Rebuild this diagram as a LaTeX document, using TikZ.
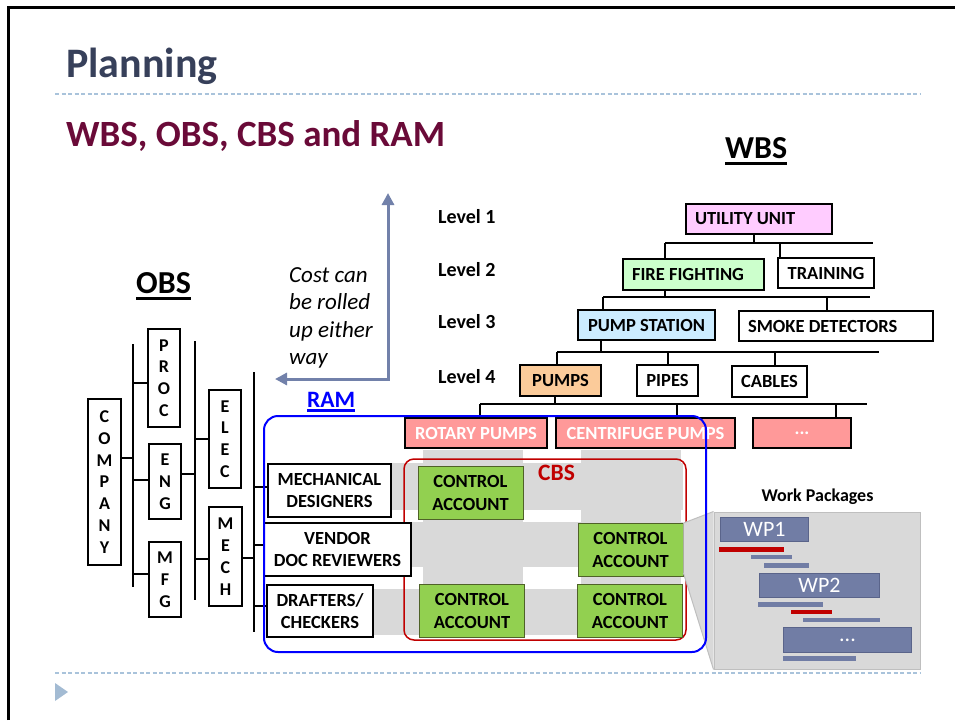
\documentclass[tikz,border=0pt]{standalone}
\usepackage{fontspec}
\setmainfont{Carlito}
\usetikzlibrary{arrows.meta}
\definecolor{titleslate}{HTML}{37405A}
\definecolor{subtitlewine}{HTML}{6A0A38}
\definecolor{ruleblue}{HTML}{A9C3DB}
\definecolor{triblue}{HTML}{A3BBD3}
\definecolor{utilpink}{HTML}{FFCCFF}
\definecolor{firegreen}{HTML}{CCFFCC}
\definecolor{pumpblue}{HTML}{CCECFF}
\definecolor{pumporange}{HTML}{FBCB9A}
\definecolor{salmon}{HTML}{FF9999}
\definecolor{cagreen}{HTML}{92D050}
\definecolor{caedge}{HTML}{4F6228}
\definecolor{bandgray}{HTML}{D9D9D9}
\definecolor{panelline}{HTML}{BFBFBF}
\definecolor{wpblue}{HTML}{717DA5}
\definecolor{wpedge}{HTML}{5A648A}
\definecolor{barred}{HTML}{C00000}
\definecolor{cbsred}{HTML}{C00000}
\definecolor{costblue}{HTML}{7281AA}
\definecolor{ramblue}{HTML}{0000FF}
\newcommand{\boxfont}{\bfseries\fontsize{18.5}{22.5}\selectfont}
\newcommand{\letterfont}{\bfseries\fontsize{18}{21.8}\selectfont}
\newcommand{\thickul}[3]{\setbox0=\hbox{#3}\rlap{\copy0}\rule[-#1]{\wd0}{#2}}

\begin{document}
\begin{tikzpicture}[x=1pt,y=-1pt,
    wbsbox/.style={draw,line width=2.5pt,font=\boxfont,inner sep=0pt,align=center},
    leftbox/.style={wbsbox,align=flush left,inner xsep=9pt},
    letters/.style={wbsbox,font=\letterfont},
    ctrlacct/.style={draw=caedge,line width=0.8pt,fill=cagreen,font=\boxfont,inner sep=0pt,align=center,minimum width=105pt,minimum height=53pt},
    treeline/.style={line width=2pt},
    wpbox/.style={draw=wpedge,line width=1.2pt,fill=wpblue,text=white,font=\fontsize{22}{24}\selectfont,inner sep=0pt,minimum height=24pt},
    levellabel/.style={font=\bfseries\fontsize{20}{24}\selectfont,anchor=base west,inner sep=0pt},
    heading/.style={anchor=base west,inner sep=0pt}]
    \useasboundingbox (0,0) rectangle (955,720);
    % slide frame and rules
    \draw[line width=3pt] (8.5,720) -- (8.5,7) -- (955,7);
    \draw[ruleblue,line width=1.2pt,dash pattern=on 4pt off 2.5pt] (55,94) -- (920,94);
    \draw[ruleblue,line width=1.2pt,dash pattern=on 4pt off 2.5pt] (55,673) -- (920,673);
    \fill[triblue] (55,683) -- (68,692) -- (55,701) -- cycle;
    \node[heading,text=titleslate,font=\bfseries\fontsize{42}{46}\selectfont] (title) at (66,77) {Planning};
    \node[heading,text=subtitlewine,font=\bfseries\fontsize{37}{41}\selectfont] (subtitle) at (66,146) {WBS, OBS, CBS and RAM};
    \node[heading,font=\bfseries\fontsize{32}{36}\selectfont] (wbshead) at (725,158) {\thickul{7pt}{3pt}{WBS}};
    \node[heading,font=\bfseries\fontsize{32}{36}\selectfont] (obshead) at (136,293) {\thickul{7pt}{3pt}{OBS}};
    \node[heading,text=ramblue,font=\bfseries\fontsize{23.5}{26}\selectfont] (ramhead) at (307,407) {\thickul{4.8pt}{2.8pt}{RAM}};

    % RAM grid
    \foreach \ya/\yb in {463/510,522/567,589/635}
        \fill[bandgray] (300,\ya) rectangle (683,\yb);
    \foreach \xa/\xb in {423/523,581/681}
        \fill[bandgray] (\xa,450) rectangle (\xb,637);
    \draw[cbsred,line width=1.5pt,rounded corners=10pt] (404,459) rectangle (686,640);
    \node[heading,text=cbsred,font=\bfseries\fontsize{23.5}{26}\selectfont] (cbshead) at (538,480) {CBS};
    \node[ctrlacct] (ca1) at (470.5,493) {CONTROL\\ACCOUNT};
    \node[ctrlacct] (ca2) at (630.5,550) {CONTROL\\ACCOUNT};
    \node[ctrlacct] (ca3) at (472,611) {CONTROL\\ACCOUNT};
    \node[ctrlacct] (ca4) at (630,611) {CONTROL\\ACCOUNT};

    % work packages
    \node[draw=panelline,fill=bandgray,line width=1pt,minimum width=206pt,minimum height=157pt,inner sep=0pt] (wppanel) at (817,590.5) {};
    \fill[bandgray] (ca2.north east) -- (wppanel.north west) -- (wppanel.south west) -- ([yshift=4pt]ca2.south east) -- cycle;
    \draw[panelline,line width=1pt] (ca2.north east) -- (wppanel.north west);
    \draw[panelline,line width=1pt] ([yshift=4pt]ca2.south east) -- (wppanel.south west);
    \node[anchor=base,inner sep=0pt,font=\bfseries\fontsize{18}{22}\selectfont] (wphead) at (817.5,501) {Work Packages};
    \node[wpbox,minimum width=88pt] (wp1) at (764.5,529.5) {WP1};
    \node[wpbox,minimum width=120pt] (wp2) at (819.5,585.5) {WP2};
    \node[wpbox,minimum width=128pt,minimum height=25pt] (wp3) at (847.5,640) {...};
    \foreach \xa/\ya/\xb/\yb/\c in {719/547/784/552/barred,751/555/792/559/wpblue,764/563/809/568/wpblue,
        758/602/823/607/wpblue,791/610/832/614/barred,803/618/880/622/wpblue,783/656/856/661/wpblue}
        \fill[\c] (\xa,\ya) rectangle (\xb,\yb);

    % WBS
    \node[levellabel] (lvl1) at (438,223) {Level 1};
    \node[levellabel] (lvl2) at (438,276) {Level 2};
    \node[levellabel] (lvl3) at (438,328) {Level 3};
    \node[levellabel] (lvl4) at (438,383) {Level 4};
    \node[leftbox,fill=utilpink,text width=128pt,minimum height=30pt] (util) at (759,219) {UTILITY UNIT};
    \node[leftbox,fill=firegreen,text width=123pt,minimum height=31pt] (fire) at (693.5,274.5) {FIRE FIGHTING};
    \node[wbsbox,minimum width=96pt,minimum height=30pt] (train) at (826,273) {TRAINING};
    \node[wbsbox,fill=pumpblue,minimum width=137pt,minimum height=30pt] (pstat) at (646.5,325) {PUMP STATION};
    \node[leftbox,text width=176pt,minimum height=30pt] (smoke) at (836,326) {SMOKE DETECTORS};
    \node[wbsbox,fill=pumporange,minimum width=81pt,minimum height=31pt] (pumps) at (560.5,380.5) {PUMPS};
    \node[wbsbox,minimum width=61pt,minimum height=31pt] (pipes) at (667.5,380.5) {PIPES};
    \node[wbsbox,minimum width=75pt,minimum height=31pt] (cables) at (769.5,381.5) {CABLES};
    \node[wbsbox,fill=salmon,text=white,minimum width=142pt,minimum height=30pt] (rotary) at (476,433) {ROTARY PUMPS};
    \node[wbsbox,fill=salmon,text=white,minimum width=179pt,minimum height=30pt] (centri) at (645.5,433) {CENTRIFUGE PUMPS};
    \node[wbsbox,fill=salmon,text=white,minimum width=98pt,minimum height=30pt] (more) at (802,433) {...};
    \coordinate (busaw) at (665,243);
    \coordinate (busae) at (873,243);
    \coordinate (busbw) at (603,297);
    \coordinate (busbe) at (870,297);
    \coordinate (buscw) at (557,352);
    \coordinate (busce) at (879,352);
    \coordinate (busdw) at (480,404);
    \coordinate (busde) at (867,404);
    \draw[treeline] (busaw) -- (busae);
    \draw[treeline] ([xshift=-5pt]util.south) -- ([xshift=-5pt]util.south |- busaw);
    \draw[treeline] (busaw) -- (busaw |- fire.north);
    \draw[treeline] ([xshift=-46pt]train.north) -- ([xshift=-46pt]train.north |- busaw);
    \draw[treeline] (busbw) -- (busbe);
    \draw[treeline] ([xshift=-28.5pt]fire.south) -- ([xshift=-28.5pt]fire.south |- busbw);
    \draw[treeline] (busbw) -- (busbw |- pstat.north);
    \draw[treeline] ([xshift=-9pt]smoke.north) -- ([xshift=-9pt]smoke.north |- busbw);
    \draw[treeline] (buscw) -- (busce);
    \draw[treeline] ([xshift=-45.5pt]pstat.south) -- ([xshift=-45.5pt]pstat.south |- buscw);
    \draw[treeline] (buscw) -- (buscw |- pumps.north);
    \draw[treeline] (pipes.north) -- (pipes.north |- buscw);
    \draw[treeline] ([xshift=5.5pt]cables.north) -- ([xshift=5.5pt]cables.north |- buscw);
    \draw[treeline] (busdw) -- (busde);
    \draw[treeline] ([xshift=-5.5pt]pumps.south) -- ([xshift=-5.5pt]pumps.south |- busdw);
    \draw[treeline] (busdw) -- (busdw |- rotary.north);
    \draw[treeline] ([xshift=31.5pt]centri.north) -- ([xshift=31.5pt]centri.north |- busdw);
    \draw[treeline] ([xshift=34pt]more.north) -- ([xshift=34pt]more.north |- busdw);

    % OBS
    \node[letters,minimum width=33pt,minimum height=166pt] (company) at (104.5,482) {C\\O\\M\\P\\A\\N\\Y};
    \node[letters,minimum width=32pt,minimum height=98pt] (proc) at (164,378) {P\\R\\O\\C};
    \node[letters,minimum width=32pt,minimum height=75pt] (eng) at (165,481.5) {E\\N\\G};
    \node[letters,minimum width=32pt,minimum height=75pt] (mfg) at (165,579.5) {M\\F\\G};
    \node[letters,minimum width=32pt,minimum height=98pt] (elec) at (225,439) {E\\L\\E\\C};
    \node[letters,minimum width=33pt,minimum height=99pt] (mech) at (225.5,556.5) {M\\E\\C\\H};
    \node[wbsbox,fill=white,minimum width=123pt,minimum height=53pt] (mdes) at (329.5,490.5) {MECHANICAL\\DESIGNERS};
    \node[wbsbox,fill=white,minimum width=147pt,minimum height=53pt] (vend) at (337.5,549.5) {VENDOR\\DOC REVIEWERS};
    \node[wbsbox,fill=white,minimum width=106pt,minimum height=52pt] (draft) at (320,611) {DRAFTERS/\\CHECKERS};
    \coordinate (spineatop) at (133,344);
    \coordinate (spineabot) at (133,587);
    \coordinate (spinebtop) at (195,341);
    \coordinate (spinebbot) at (195,600);
    \coordinate (spinectop) at (254,372);
    \coordinate (spinecbot) at (254,632);
    \draw[treeline] (spineatop) -- (spineabot);
    \draw[treeline] (spinebtop) -- (spinebbot);
    \draw[treeline] (spinectop) -- (spinecbot);
    \draw[treeline] ([yshift=24pt]company.east) -- ([yshift=24pt]company.east -| spineatop);
    \draw[treeline] ([yshift=-5pt]proc.west) -- ([yshift=-5pt]proc.west -| spineatop);
    \draw[treeline] ([yshift=1.5pt]eng.west) -- ([yshift=1.5pt]eng.west -| spineatop);
    \draw[treeline] ([yshift=5.5pt]mfg.west) -- ([yshift=5.5pt]mfg.west -| spineatop);
    \draw[treeline] ([yshift=7.5pt]eng.east) -- ([yshift=7.5pt]eng.east -| spinebtop);
    \draw[treeline] (elec.west) -- (elec.west -| spinebtop);
    \draw[treeline] ([yshift=-2.5pt]mech.west) -- ([yshift=-2.5pt]mech.west -| spinebtop);
    \draw[treeline] ([yshift=-1.5pt]mech.east) -- ([yshift=-1.5pt]mech.east -| spinectop);
    \draw[treeline] ([yshift=3.5pt]mdes.west) -- ([yshift=3.5pt]mdes.west -| spinectop);
    \draw[treeline] ([yshift=4.5pt]vend.west) -- ([yshift=4.5pt]vend.west -| spinectop);
    \draw[treeline] ([yshift=5pt]draft.west) -- ([yshift=5pt]draft.west -| spinectop);

    % cost roll-up
    \coordinate (costcorner) at (388,379);
    \coordinate (costup) at (388,193);
    \coordinate (costleft) at (275,379);
    \draw[costblue,line width=3pt,{Triangle[width=12pt,length=12pt]}-{Triangle[width=12pt,length=12pt]}] (costleft) -- (costcorner) -- (costup);
    \node[anchor=west,align=left,inner sep=0pt,font=\itshape\fontsize{23}{27.5}\selectfont] (costnote) at (289,318) {Cost can\\be rolled\\up either\\way};

    % RAM outline
    \draw[ramblue,line width=2pt,rounded corners=14pt] (264,416) rectangle (706,652);
\end{tikzpicture}
\end{document}
